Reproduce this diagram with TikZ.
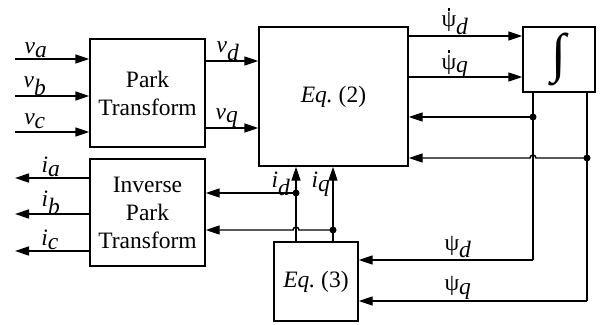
\documentclass[tikz,border=0pt]{standalone}
\usepackage{fontspec}
\setmainfont{Liberation Serif}
\usetikzlibrary{arrows.meta}
\newcommand\psidot{{\ooalign{ψ\cr\hidewidth\raisebox{16.5pt}{\rule{2.6pt}{2.6pt}}\hidewidth\cr}}}
\begin{document}
\begin{tikzpicture}[x=1pt,y=-1pt,
  blk/.style={draw,line width=1.4pt,inner sep=0pt,align=center,font=\fontsize{23.5}{28}\selectfont},
  arr/.style={line width=1.4pt,-{Triangle[length=14pt,width=9pt]}},
  ln/.style={line width=1.4pt},
  lbl/.style={inner sep=0pt,font=\fontsize{23.5}{25}\selectfont},
  dotc/.style={circle,fill,inner sep=0pt,minimum size=7pt}]
\useasboundingbox (0,0) rectangle (602,324);
% blocks
\node[blk,minimum width=115pt,minimum height=108pt] (park) at (147.5,93) {Park\\Transform};
\node[blk,minimum width=115pt,minimum height=107pt] (inv) at (147.5,212.5) {Inverse\\Park\\Transform};
\node[blk,minimum width=149pt,minimum height=139pt] (eq2) at (333.5,96.5) {\textit{Eq.}\ (2)};
\node[blk,minimum width=72pt,minimum height=65pt] (int) at (559,59.5) {\fontsize{54}{54}\selectfont∫};
\node[blk,minimum width=84pt,minimum height=79pt] (eq3) at (316,281.5) {\textit{Eq.}\ (3)};
% inputs
\coordinate (va) at (15,59);
\coordinate (vb) at (15,96);
\coordinate (vc) at (15,132);
\draw[arr] (va) -- (va -| park.west);
\draw[arr] (vb) -- (vb -| park.west);
\draw[arr] (vc) -- (vc -| park.west);
\node[lbl] at (36,50) {$\textit{v}_{\textit{a}}$};
\node[lbl] at (35,86) {$\textit{v}_{\textit{b}}$};
\node[lbl] at (35,121) {$\textit{v}_{\textit{c}}$};
% park -> eq2
\coordinate (vd) at (205,61);
\coordinate (vq) at (205,128);
\draw[arr] (vd) -- (vd -| eq2.west);
\draw[arr] (vq) -- (vq -| eq2.west);
\node[lbl] at (228,51) {$\textit{v}_{\textit{d}}$};
\node[lbl] at (227,118) {$\textit{v}_{\textit{q}}$};
% eq2 -> int
\coordinate (pdd) at (408,36);
\coordinate (pqd) at (408,77);
\draw[arr] (pdd) -- (pdd -| int.west);
\draw[arr] (pqd) -- (pqd -| int.west);
\node[lbl,anchor=base] at (455,27) {\psidot$_{\textit{d}}$};
\node[lbl,anchor=base] at (455,69) {\psidot$_{\textit{q}}$};
% feedback from integrator
\coordinate (xd) at (533,92);
\coordinate (xq) at (587,92);
\coordinate (fd) at (533,117);
\coordinate (fq) at (587,158);
\coordinate (bd) at (533,260);
\coordinate (bq) at (587,301);
\draw[ln] (xd) -- (bd);
\draw[ln] (xq) -- (bq);
\draw[arr] (bd) -- (bd -| eq3.east);
\draw[arr] (bq) -- (bq -| eq3.east);
\draw[arr] (fd) -- (fd -| eq2.east);
\draw[arr] (fq) -- (536,158) arc[start angle=0,end angle=180,radius=3pt] -- (fq -| eq2.east);
\node[dotc] at (fd) {};
\node[dotc] at (fq) {};
\node[lbl] at (458,247) {ψ$_{\textit{d}}$};
\node[lbl] at (458,288) {ψ$_{\textit{q}}$};
% eq3 -> eq2
\coordinate (idb) at (296,242);
\coordinate (iqb) at (333,242);
\draw[arr] (idb) -- (idb |- eq2.south);
\draw[arr] (iqb) -- (iqb |- eq2.south);
\coordinate (di) at (296,193);
\coordinate (qi) at (333,230);
\draw[arr] (di) -- (di -| inv.east);
\draw[arr] (qi) -- (299,230) arc[start angle=0,end angle=180,radius=3pt] -- (qi -| inv.east);
\node[dotc] at (di) {};
\node[dotc] at (qi) {};
\node[lbl] at (281,184) {$\textit{i}_{\textit{d}}$};
\node[lbl] at (321,184) {$\textit{i}_{\textit{q}}$};
% outputs
\coordinate (ia) at (15,178);
\coordinate (ib) at (15,214);
\coordinate (ic) at (15,251);
\draw[arr] (ia -| inv.west) -- (ia);
\draw[arr] (ib -| inv.west) -- (ib);
\draw[arr] (ic -| inv.west) -- (ic);
\node[lbl] at (51,167) {$\textit{i}_{\textit{a}}$};
\node[lbl] at (51,203) {$\textit{i}_{\textit{b}}$};
\node[lbl] at (50,240) {$\textit{i}_{\textit{c}}$};
\end{tikzpicture}
\end{document}
